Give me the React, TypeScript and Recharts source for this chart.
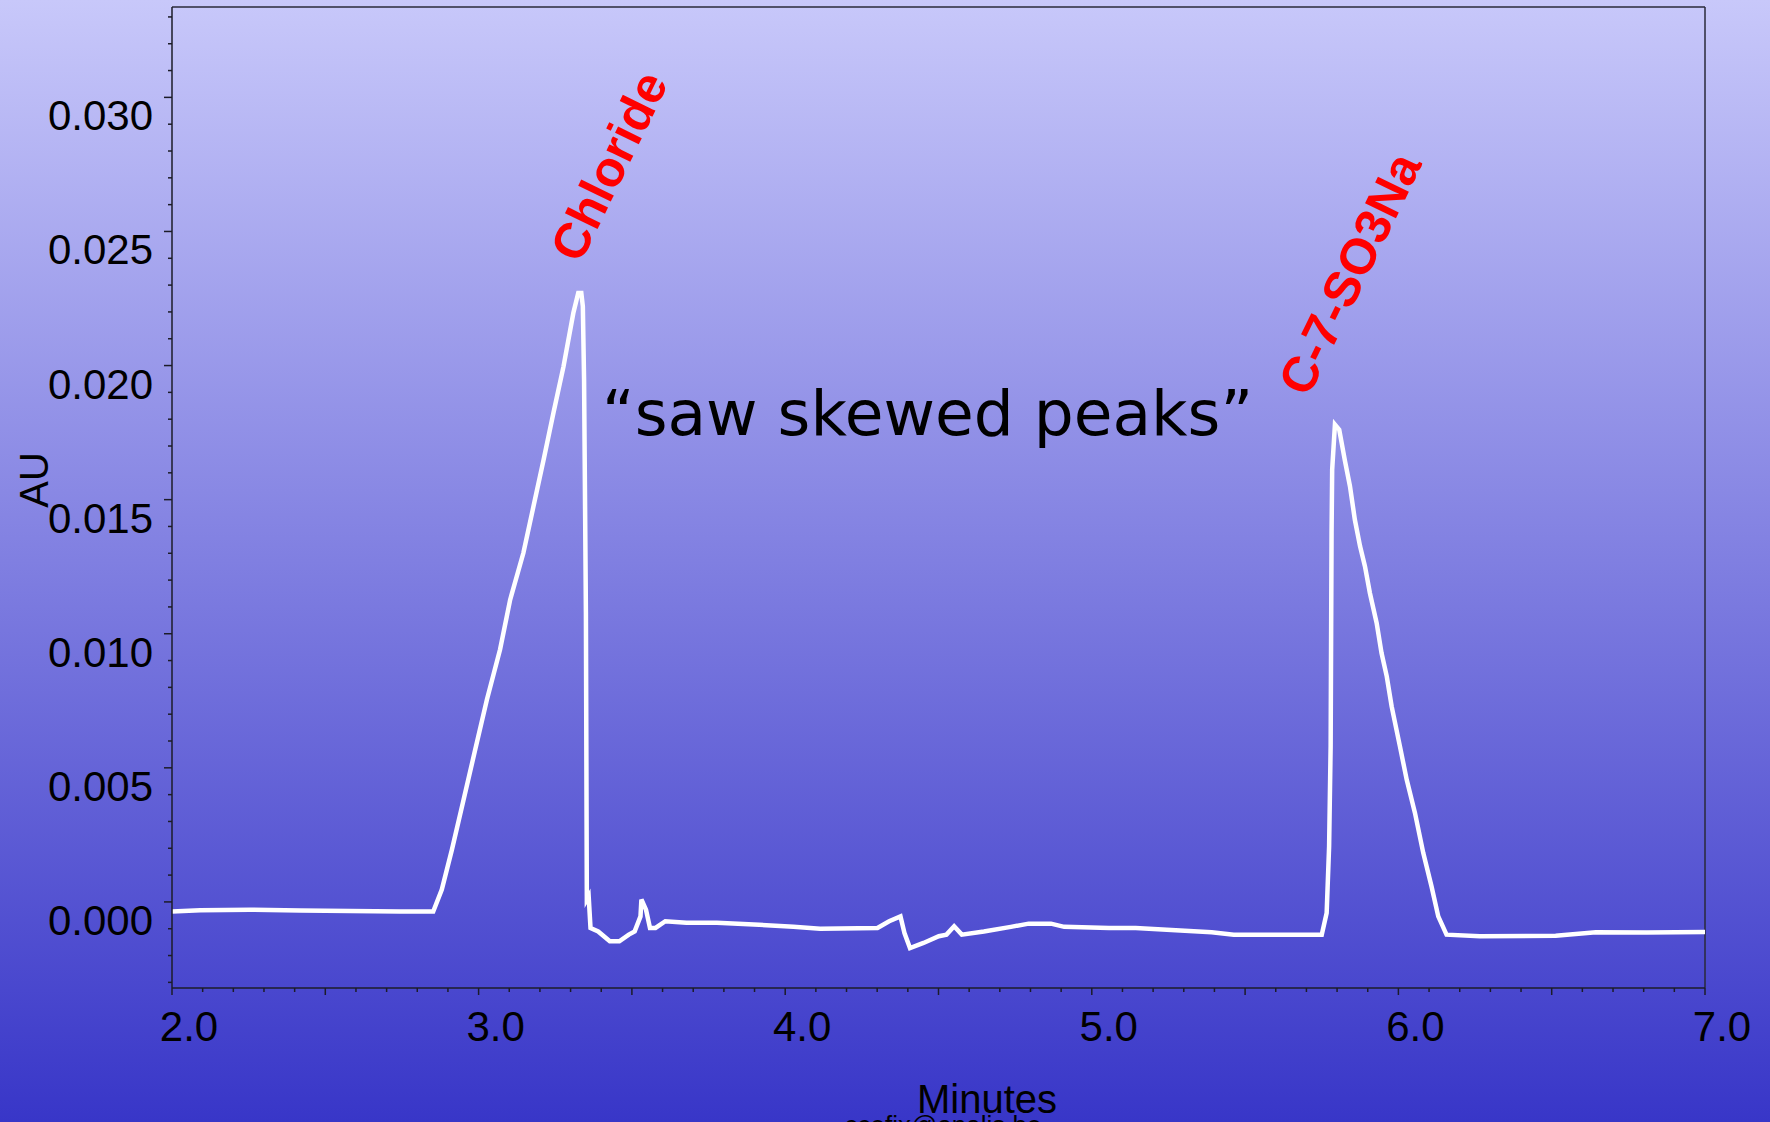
import React from "react";
import { LineChart, Line, XAxis, YAxis, ReferenceDot, ReferenceLine } from "recharts";

// chromatogram trace (minutes, AU)
const TIME = [
  2.0, 2.092, 2.255, 2.418, 2.581, 2.744, 2.852, 2.88, 2.913, 2.951, 2.989, 3.027, 3.07, 3.103,
  3.146, 3.179, 3.212, 3.244, 3.277, 3.309, 3.325, 3.335, 3.34, 3.344, 3.35, 3.353, 3.359, 3.365,
  3.39, 3.428, 3.459, 3.49, 3.509, 3.528, 3.531, 3.546, 3.559, 3.577, 3.609, 3.678, 3.777, 3.915,
  4.027, 4.114, 4.301, 4.339, 4.376, 4.389, 4.407, 4.451, 4.501, 4.526, 4.551, 4.576, 4.648, 4.736,
  4.794, 4.867, 4.91, 5.056, 5.143, 5.274, 5.391, 5.463, 5.75, 5.766, 5.774, 5.779, 5.782, 5.784,
  5.793, 5.807, 5.826, 5.842, 5.858, 5.875, 5.891, 5.907, 5.929, 5.945, 5.962, 5.978, 6.005, 6.027,
  6.054, 6.081, 6.108, 6.13, 6.157, 6.266, 6.513, 6.644, 6.81, 7.0,
];
const AU = [
  -0.00036, -0.00031, -0.00029, -0.00032, -0.00034, -0.00036, -0.00036, 0.00046, 0.00195, 0.00381,
  0.00568, 0.00754, 0.00941, 0.01127, 0.01301, 0.01475, 0.01649, 0.01823, 0.01997, 0.02196, 0.02271,
  0.02271, 0.02221, 0.01947, 0.01079, 0.00009, 0.00021, -0.00097, -0.0011, -0.00147, -0.00147,
  -0.00122, -0.0011, -0.00054, 0.00009, -0.00029, -0.00097, -0.00097, -0.00072, -0.00078, -0.00078,
  -0.00085, -0.00093, -0.001, -0.00097, -0.00072, -0.00054, -0.00116, -0.00172, -0.00153, -0.00128,
  -0.00122, -0.00091, -0.00122, -0.0011, -0.00093, -0.00081, -0.00081, -0.00093, -0.00097, -0.00097,
  -0.00106, -0.00113, -0.00122, -0.00122, -0.00041, 0.00207, 0.0058, 0.01376, 0.01612, 0.0178,
  0.01761, 0.01643, 0.0155, 0.01425, 0.01326, 0.01251, 0.01152, 0.0104, 0.00928, 0.00841, 0.00729,
  0.0058, 0.00456, 0.00332, 0.00183, 0.00058, -0.00054, -0.00122, -0.00128, -0.00126, -0.00113,
  -0.00114, -0.00112,
];

const X_TICKS = [
  2.0, 2.1, 2.2, 2.3, 2.4, 2.5, 2.6, 2.7, 2.8, 2.9, 3.0, 3.1, 3.2, 3.3, 3.4, 3.5, 3.6, 3.7, 3.8, 3.9,
  4.0, 4.1, 4.2, 4.3, 4.4, 4.5, 4.6, 4.7, 4.8, 4.9, 5.0, 5.1, 5.2, 5.3, 5.4, 5.5, 5.6, 5.7, 5.8, 5.9,
  6.0, 6.1, 6.2, 6.3, 6.4, 6.5, 6.6, 6.7, 6.8, 6.9, 7.0,
];
const Y_TICKS = [
  -0.003, -0.002, -0.001, 0.0, 0.001, 0.002, 0.003, 0.004, 0.005, 0.006, 0.007, 0.008, 0.009, 0.01,
  0.011, 0.012, 0.013, 0.014, 0.015, 0.016, 0.017, 0.018, 0.019, 0.02, 0.021, 0.022, 0.023, 0.024,
  0.025, 0.026, 0.027, 0.028, 0.029, 0.03, 0.031, 0.032, 0.033,
];

const X_DOMAIN = [2, 7];
const Y_DOMAIN = [-0.00321, 0.03337];

const PEAK_NAMES = ["Chloride", "C-7-SO3Na"];
const PEAK_LABEL_T = [3.331, 5.705];
const PEAK_LABEL_AU = [0.02376, 0.01877];

const data = TIME.map((t, i) => ({ t, au: AU[i] }));

const AXIS = "#1c1c28";
const FONT = "'Liberation Sans', Arial, sans-serif";

const XTick = ({ x, y, payload }: any) => {
  const v = payload.value;
  const whole = Math.abs(v - Math.round(v)) < 1e-6;
  const half = Math.abs(v * 2 - Math.round(v * 2)) < 1e-6;
  return (
    <g>
      <line x1={x} y1={y} x2={x} y2={y + (half ? 7 : 4)} stroke={AXIS} strokeWidth={1.5} />
      {whole && (
        <text x={x + 17} y={y + 53} textAnchor="middle" fontSize={42} fontFamily={FONT} fill="#000">
          {v.toFixed(1)}
        </text>
      )}
    </g>
  );
};

const YTick = ({ x, y, payload }: any) => {
  const v = payload.value;
  const major = Math.abs(v * 200 - Math.round(v * 200)) < 1e-6;
  return (
    <g>
      <line x1={x} y1={y} x2={x - (major ? 8 : 4)} y2={y} stroke={AXIS} strokeWidth={1.5} />
      {major && (
        <text x={x - 19} y={y + 33} textAnchor="end" fontSize={42} fontFamily={FONT} fill="#000">
          {v.toFixed(3)}
        </text>
      )}
    </g>
  );
};

const PeakLabel = ({ viewBox, text }: any) => {
  const { x, y } = viewBox;
  return (
    <text
      x={x}
      y={y}
      transform={`rotate(-64 ${x} ${y})`}
      fontSize={50}
      fontWeight="bold"
      fontFamily={FONT}
      fill="#ff0000"
    >
      {text}
    </text>
  );
};

export default function App() {
  return (
    <div
      style={{
        position: "absolute",
        left: 0,
        top: 0,
        width: 1770,
        height: 1122,
        overflow: "hidden",
        background: "linear-gradient(to bottom, #c8c8fa 0%, #3836c8 100%)",
      }}
    >
      <LineChart width={1770} height={1122} data={data} margin={{ top: 7, right: 65, bottom: 0, left: 0 }}>
        <XAxis
          dataKey="t"
          type="number"
          domain={X_DOMAIN}
          ticks={X_TICKS}
          interval={0}
          height={134}
          tickSize={0}
          tickMargin={0}
          tickLine={false}
          tick={<XTick />}
          axisLine={{ stroke: AXIS, strokeWidth: 1.5 }}
          allowDataOverflow
        />
        <YAxis
          type="number"
          domain={Y_DOMAIN}
          ticks={Y_TICKS}
          interval={0}
          width={172}
          tickSize={0}
          tickMargin={0}
          tickLine={false}
          tick={<YTick />}
          axisLine={{ stroke: AXIS, strokeWidth: 1.5 }}
          allowDataOverflow
        />
        {/* frame: top and right edges of the plot box */}
        <ReferenceLine y={Y_DOMAIN[1]} stroke="#2a2a3a" strokeWidth={1.5} ifOverflow="visible" />
        <ReferenceLine x={X_DOMAIN[1]} stroke="#2a2a3a" strokeWidth={1.5} ifOverflow="visible" />
        <Line
          type="linear"
          dataKey="au"
          stroke="#ffffff"
          strokeWidth={4.5}
          dot={false}
          isAnimationActive={false}
        />
        {PEAK_NAMES.map((name, i) => (
          <ReferenceDot
            key={name}
            x={PEAK_LABEL_T[i]}
            y={PEAK_LABEL_AU[i]}
            r={0}
            fill="none"
            stroke="none"
            label={<PeakLabel text={name} />}
          />
        ))}
      </LineChart>
      <svg
        width={1770}
        height={1122}
        style={{ position: "absolute", left: 0, top: 0, pointerEvents: "none" }}
      >
        <text x={48} y={480} transform="rotate(-90 48 480)" textAnchor="middle" fontSize={40} fontFamily={FONT}>
          AU
        </text>
        <text x={987} y={1113} textAnchor="middle" fontSize={40} fontFamily={FONT}>
          Minutes
        </text>
        <text x={943} y={1134} textAnchor="middle" fontSize={26} fontFamily={FONT}>
          ccefix@analis.be
        </text>
        <text x={602} y={435} fontSize={63} fontFamily="'DejaVu Sans', Verdana, sans-serif">
          “saw skewed peaks”
        </text>
      </svg>
    </div>
  );
}
